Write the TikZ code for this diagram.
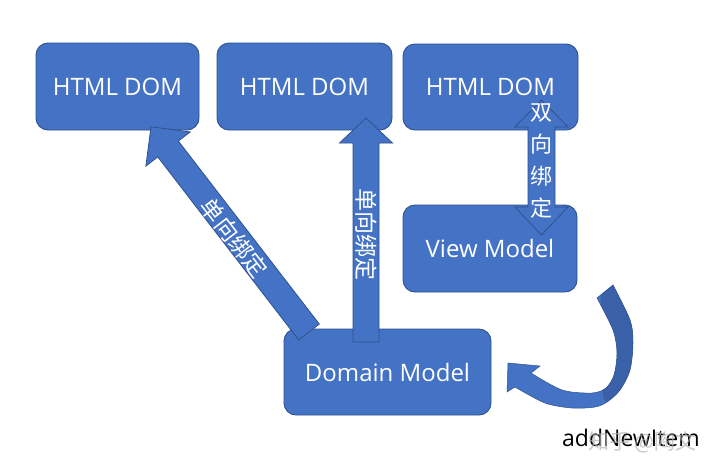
\documentclass[tikz,border=0pt]{standalone}
\usepackage{fontspec}
\setmainfont{Open Sans}
\newfontfamily\cjk{Noto Sans CJK SC}
\definecolor{boxblue}{HTML}{4472C4}
\definecolor{boxedge}{HTML}{2F528F}
\definecolor{darkblue}{HTML}{3A60A8}
\newcommand\mycurvedpath{(597,298) -- plot[smooth] coordinates {(613,285) (630,320) (633,343) (630,370) (620,390) (607,402) (595,407) (572,408) (545,403) (515,387)} -- (507,392) -- (508,363) -- (540,366) -- plot[smooth] coordinates {(531,373) (562,390) (592,393) (606,388) (614,375) (617,353) (613,330) (597,298)} -- cycle}
\begin{document}
\begin{tikzpicture}[x=1pt,y=-1pt,
  box/.style={draw=boxedge,fill=boxblue,line width=0.9pt,rounded corners=12pt,
    text=white,font=\fontsize{24}{28}\selectfont,inner sep=0pt,outer sep=0pt},
  blockarrow/.style={draw=boxedge,fill=boxblue,line width=0.8pt,line join=miter},
  cnlabel/.style={text=white,font=\cjk\fontsize{23}{23}\selectfont,inner sep=0pt}]
\useasboundingbox (0,0) rectangle (720,475);
\fill[white] (0,0) rectangle (720,475);

% boxes
\node[box,minimum width=163pt,minimum height=87pt] (dom1) at (117.5,86.5) {HTML DOM};
\node[box,minimum width=175pt,minimum height=87pt] (dom2) at (304.5,86.5) {HTML DOM};
\node[box,minimum width=175pt,minimum height=86pt] (dom3) at (490.5,87) {HTML DOM};
\node[box,minimum width=174pt,minimum height=87pt] (vm) at (490,248.5) {View Model};
\node[box,minimum width=207pt,minimum height=86pt] (dm) at (387.5,372) {Domain Model};

% diagonal one-way arrow
\begin{scope}[shift={(309,332)},rotate=127.6]
  \draw[blockarrow] (0,-13) -- (231,-13) -- (231,-28) -- (259,0) -- (231,28) -- (231,13) -- (0,13) -- cycle;
\end{scope}
\node[cnlabel,rotate=-52.4] (t1) at (234,238) {单向绑定};

% vertical one-way arrow
\draw[blockarrow] (353,342) -- (353,143) -- (339.5,143) -- (366,118) -- (392.5,143) -- (379,143) -- (379,342) -- cycle;
\node[cnlabel,rotate=-90] (t2) at (366,234) {单向绑定};

% two-way arrow
\draw[blockarrow] (541.5,100) -- (568,127) -- (555,127) -- (555,207) -- (568,207) -- (541.5,235) -- (515,207) -- (528,207) -- (528,127) -- (515,127) -- cycle;
\node[cnlabel,align=center,font=\cjk\fontsize{22}{32}\selectfont] (t3) at (541.5,161) {双\\向\\绑\\定};

% curved arrow
\fill[boxblue] \mycurvedpath;
\begin{scope}
  \clip \mycurvedpath;
  \fill[darkblue] (600,270) -- (660,270) -- (660,420) -- (614,420) -- (603,396) -- cycle;
\end{scope}
\draw[boxedge,line width=0.5pt] \mycurvedpath;

% labels
\node[anchor=base west,inner sep=0pt,font=\fontsize{23}{23}\selectfont] (lbl) at (562,446) {addNewItem};
\node[anchor=west,inner sep=0pt,text=black!30,opacity=0.7,font=\cjk\fontsize{21}{21}\selectfont] (wm) at (588,442) {知乎 @陶文};
\end{tikzpicture}
\end{document}
